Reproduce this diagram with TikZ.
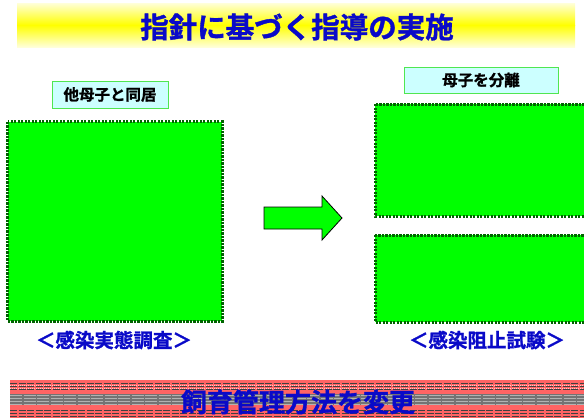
\documentclass[tikz,border=0pt]{standalone}
\usepackage{fontspec}
\newfontfamily\cjk{Noto Sans CJK JP}[BoldFont={Noto Sans CJK JP Bold},BoldFeatures={FakeBold=1.2}]
\definecolor{boxgreen}{RGB}{0,255,0}
\definecolor{dotgreen}{RGB}{0,100,0}
\definecolor{labcyan}{RGB}{204,255,255}
\definecolor{labborder}{RGB}{80,230,80}
\definecolor{txtblue}{RGB}{10,10,200}
\definecolor{bannerred}{RGB}{255,100,100}
\tikzset{
  greenfill/.style={fill=boxgreen},
  greenedge/.style={draw=dotgreen, line width=3pt, dash pattern=on 2.2pt off 1.3pt},
  labelbox/.style={draw=labborder, fill=labcyan, line width=1pt, inner sep=0pt, font=\cjk\bfseries\fontsize{15.5}{15.5}\selectfont},
  bluelabel/.style={text=txtblue, font=\cjk\bfseries\fontsize{19.5}{19.5}\selectfont},
}
\begin{document}
\begin{tikzpicture}[x=1pt,y=-1pt]
\useasboundingbox (0,0) rectangle (584,418);
% title banner
\shade[top color=yellow!15, bottom color=yellow] (17,3) rectangle (575,25);
\shade[top color=yellow, bottom color=yellow!15] (17,25) rectangle (575,47);
\node (title) at (297,27) {\cjk\bfseries\fontsize{28.5}{28.5}\selectfont\color{txtblue}指針に基づく指導の実施};
% left side
\node[labelbox, minimum width=116pt, minimum height=27pt] (lab1) at (110,94.5) {他母子と同居};
\node[greenfill, inner sep=0pt, minimum width=214pt, minimum height=199pt] (boxL) at (115,221.5) {};
\draw[greenedge] (boxL.north west) rectangle (boxL.south east);
\node[bluelabel] (capL) at (114,340) {＜感染実態調査＞};
% arrow
\coordinate (arrtail) at (264,218);
\draw[fill=boxgreen, line width=0.8pt, line join=miter] (264,207) -- (322,207) -- (322,196) -- (342,218) -- (322,240) -- (322,229) -- (264,229) -- cycle;
% right side
\node[labelbox, minimum width=154pt, minimum height=26pt] (lab2) at (481,80) {母子を分離};
\fill[greenfill] (375,104) rectangle (590,216);
\draw[greenedge] (375,104) rectangle (590,216);
\node[inner sep=0pt, minimum width=209pt, minimum height=112pt] (boxR1) at (479.5,160) {};
\fill[greenfill] (375,235) rectangle (590,322);
\draw[greenedge] (375,235) rectangle (590,322);
\node[inner sep=0pt, minimum width=209pt, minimum height=87pt] (boxR2) at (479.5,278.5) {};
\node[bluelabel] (capR) at (487,340) {＜感染阻止試験＞};
% bottom banner
\fill[bannerred] (10,380) rectangle (584,418);
\foreach \yy in {383,386,389,410,413,416}{
  \draw[black!75, line width=0.5pt, dash pattern=on 7pt off 1.5pt] (10,\yy) -- (584,\yy);
}
\foreach \yy in {385,388}{
  \draw[white!80!red, line width=0.4pt, dash pattern=on 1pt off 1pt] (10,\yy) -- (584,\yy);
}
\fill[black!55] (10,394) rectangle (584,405);
\foreach \yy in {395,398,401,404}{
  \draw[gray!60, line width=0.7pt, dash pattern=on 12pt off 1.5pt] (10,\yy) -- (584,\yy);
}
\node (bottom) at (298,402) {\cjk\bfseries\fontsize{26}{26}\selectfont\color{txtblue}飼育管理方法を変更};
\end{tikzpicture}
\end{document}
